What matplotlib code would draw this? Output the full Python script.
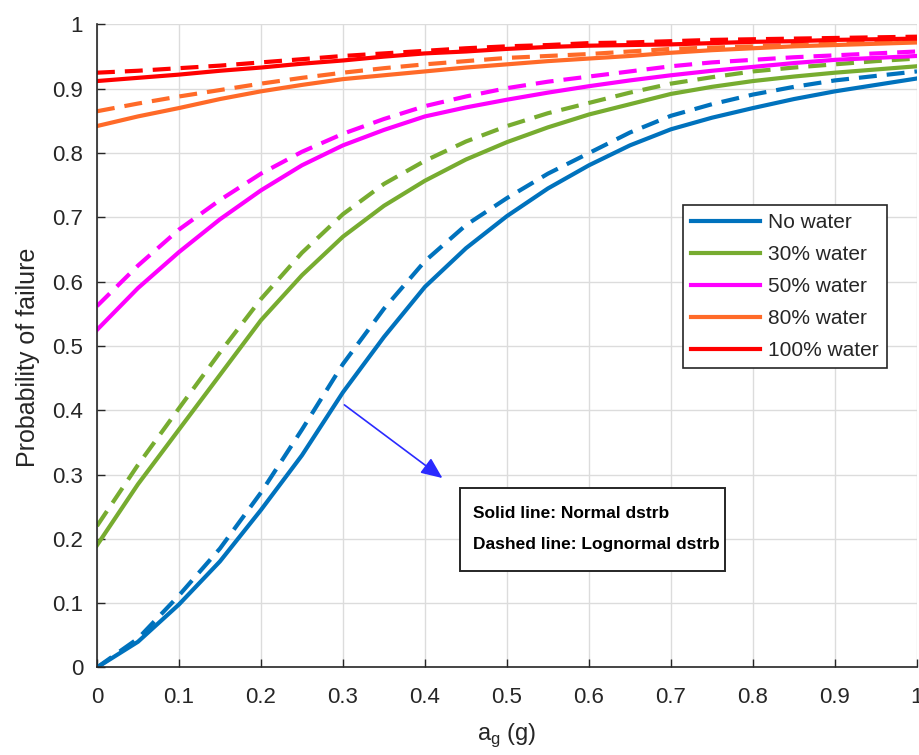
import numpy as np
import matplotlib
matplotlib.use("Agg")
import matplotlib.pyplot as plt
from matplotlib.patches import Rectangle

plt.rcParams['font.family'] = ['Liberation Sans', 'DejaVu Sans']

# peak ground acceleration (g)
ag = np.arange(0, 1.0001, 0.05)

# probability of failure, normal distribution (solid)
p_norm_0 = [0.0, 0.04, 0.098, 0.165, 0.245, 0.33, 0.428, 0.514, 0.592, 0.652, 0.702,
            0.745, 0.781, 0.812, 0.837, 0.855, 0.87, 0.884, 0.896, 0.906, 0.916]
p_norm_30 = [0.19, 0.285, 0.37, 0.455, 0.54, 0.61, 0.67, 0.718, 0.757, 0.79, 0.817,
             0.84, 0.86, 0.876, 0.892, 0.903, 0.912, 0.919, 0.925, 0.93, 0.935]
p_norm_50 = [0.525, 0.59, 0.646, 0.697, 0.742, 0.781, 0.812, 0.836, 0.857, 0.871, 0.883,
             0.894, 0.904, 0.913, 0.921, 0.928, 0.934, 0.94, 0.945, 0.948, 0.951]
p_norm_80 = [0.842, 0.857, 0.87, 0.884, 0.896, 0.906, 0.915, 0.921, 0.927, 0.933, 0.938,
             0.943, 0.947, 0.951, 0.956, 0.96, 0.963, 0.966, 0.968, 0.97, 0.972]
p_norm_100 = [0.912, 0.917, 0.922, 0.928, 0.933, 0.939, 0.944, 0.95, 0.955, 0.958, 0.962,
              0.965, 0.967, 0.968, 0.969, 0.971, 0.973, 0.974, 0.976, 0.977, 0.978]

# probability of failure, lognormal distribution (dashed)
p_logn_0 = [0.0, 0.045, 0.112, 0.185, 0.272, 0.37, 0.472, 0.558, 0.632, 0.688, 0.73,
            0.768, 0.8, 0.832, 0.858, 0.876, 0.891, 0.903, 0.913, 0.92, 0.927]
p_logn_30 = [0.22, 0.315, 0.403, 0.49, 0.573, 0.645, 0.705, 0.752, 0.788, 0.818, 0.842,
             0.862, 0.878, 0.894, 0.908, 0.918, 0.927, 0.933, 0.938, 0.943, 0.947]
p_logn_50 = [0.562, 0.625, 0.681, 0.727, 0.768, 0.802, 0.83, 0.853, 0.873, 0.888, 0.901,
             0.911, 0.919, 0.927, 0.935, 0.941, 0.945, 0.949, 0.952, 0.955, 0.958]
p_logn_80 = [0.865, 0.877, 0.888, 0.898, 0.908, 0.917, 0.925, 0.932, 0.938, 0.943, 0.948,
             0.951, 0.954, 0.958, 0.962, 0.964, 0.966, 0.968, 0.97, 0.972, 0.974]
p_logn_100 = [0.925, 0.928, 0.932, 0.936, 0.941, 0.946, 0.951, 0.955, 0.959, 0.963, 0.966,
              0.968, 0.971, 0.972, 0.974, 0.976, 0.977, 0.978, 0.979, 0.98, 0.981]

labels = ["No water", "30% water", "50% water", "80% water", "100% water"]
colors = ["#0072BD", "#77AC30", "#FF00FF", "#FF6A28", "#FF0000"]
normal_curves = [p_norm_0, p_norm_30, p_norm_50, p_norm_80, p_norm_100]
lognormal_curves = [p_logn_0, p_logn_30, p_logn_50, p_logn_80, p_logn_100]

ticks = np.arange(0, 1.01, 0.1)
tick_labels = ["0", "0.1", "0.2", "0.3", "0.4", "0.5", "0.6", "0.7", "0.8", "0.9", "1"]

text_col = "#262626"

fig = plt.figure(figsize=(9.19, 7.55), dpi=100)
ax = fig.add_axes([0.1055, 0.1159, 0.8923, 0.8517])

handles = []
for lab, col, yn, yl in zip(labels, colors, normal_curves, lognormal_curves):
    h, = ax.plot(ag, yn, color=col, lw=3, label=lab)
    ax.plot(ag, yl, color=col, lw=3, ls=(0, (4.3, 2.4)), dash_capstyle='butt')
    handles.append(h)

ax.set_xlim(0, 1)
ax.set_ylim(0, 1)
ax.set_xticks(ticks)
ax.set_yticks(ticks)
ax.set_xticklabels(tick_labels)
ax.set_yticklabels(tick_labels)
ax.grid(True, color="#dcdcdc", lw=1)
ax.set_axisbelow(True)
ax.tick_params(direction='in', length=6, width=1, colors=text_col, labelsize=16,
               top=False, right=False)
ax.tick_params(axis='x', pad=14)
ax.tick_params(axis='y', pad=10)
for side in ["left", "bottom"]:
    ax.spines[side].set_color(text_col)
    ax.spines[side].set_linewidth(1.2)
for side in ["top", "right"]:
    ax.spines[side].set_visible(False)

ax.set_xlabel(r"a$_\mathregular{g}$ (g)", fontsize=17, color=text_col)
ax.xaxis.set_label_coords(0.5, -0.084)
ax.set_ylabel("Probability of failure", fontsize=18, color=text_col)
ax.yaxis.set_label_coords(-0.07, 0.483)

leg = ax.legend(handles=handles, loc="upper right", bbox_to_anchor=(0.9634, 0.719),
                borderaxespad=0, fontsize=15, handlelength=3.3, handletextpad=0.4,
                labelspacing=0.62, borderpad=0.4, fancybox=False, framealpha=1,
                edgecolor=text_col)
leg.get_frame().set_linewidth(1.2)
for t in leg.get_texts():
    t.set_color(text_col)

# arrow pointing from the curves to the note
ax.annotate("", xy=(0.424, 0.292), xytext=(0.299, 0.411),
            arrowprops=dict(arrowstyle="-|>,head_length=0.65,head_width=0.28",
                            mutation_scale=20, color="#2A2AFF", lw=1.2))

# note box
ax.add_patch(Rectangle((0.4427, 0.150), 0.3232, 0.129, transform=ax.transAxes,
                       fc="white", ec=text_col, lw=1.4, zorder=5))
ax.text(0.4585, 0.240, "Solid line: Normal dstrb", transform=ax.transAxes,
        fontsize=12.5, fontweight="bold", color="black", va="center", ha="left", zorder=6)
ax.text(0.4585, 0.192, "Dashed line: Lognormal dstrb", transform=ax.transAxes,
        fontsize=12.5, fontweight="bold", color="black", va="center", ha="left", zorder=6)

fig.savefig("out.png", dpi=100)
